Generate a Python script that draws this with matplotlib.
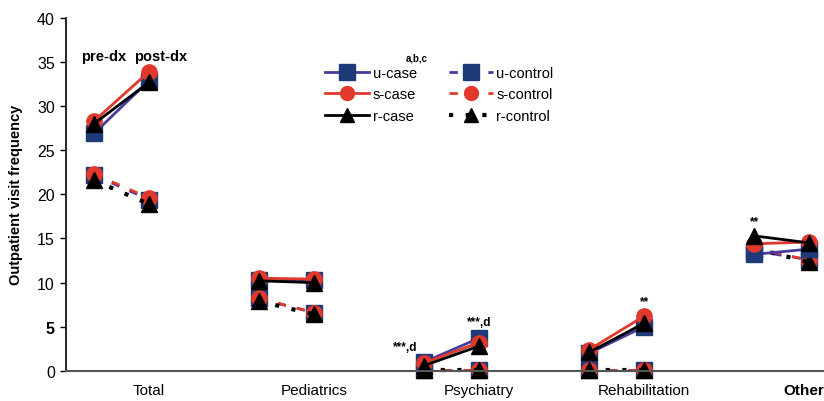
import matplotlib
matplotlib.use('Agg')
import matplotlib.pyplot as plt
from matplotlib.lines import Line2D
import numpy as np

plt.rcParams['font.family'] = ['Liberation Sans', 'DejaVu Sans']

# ---- Data (pre-dx, post-dx) per category
categories = ['Total', 'Pediatrics', 'Psychiatry', 'Rehabilitation', 'Other']
periods = ['pre-dx', 'post-dx']

u_case = [[26.9, 32.9], [10.3, 10.3], [1.0, 3.7], [2.0, 5.0], [13.2, 13.8]]
s_case = [[28.3, 33.9], [10.5, 10.4], [0.9, 3.2], [2.4, 6.2], [14.4, 14.6]]
r_case = [[28.0, 32.7], [10.2, 10.0], [0.6, 2.8], [2.1, 5.4], [15.3, 14.5]]
u_control = [[22.2, 19.4], [8.2, 6.6], [0.05, 0.05], [0.05, 0.05], [13.6, 12.6]]
s_control = [[22.3, 19.6], [8.2, 6.6], [0.05, 0.05], [0.05, 0.05], [14.0, 12.5]]
r_control = [[21.6, 18.9], [7.9, 6.4], [0.05, 0.05], [0.05, 0.05], [13.9, 12.3]]

# significance marks: (category index, period index, text, value)
sig_marks = [(2, 0, '***,d', 2.7), (2, 1, '***,d', 5.5),
             (3, 1, '**', 7.9), (4, 0, '**', 17.0)]

navy = '#1f3a78'
purple = '#4a3a9c'
red = '#e0392b'

styles = {
    'u-case': dict(color=purple, ls='-', lw=2, marker='s', mfc=navy,
                   mec=navy, ms=12),
    's-case': dict(color=red, ls='-', lw=2, marker='o', mfc=red, mec=red,
                   ms=11),
    'r-case': dict(color='black', ls='-', lw=2, marker='^', mfc='black',
                   mec='black', ms=11),
    'u-control': dict(color=purple, ls=(0, (3, 4)), lw=2, marker='s',
                      mfc=navy, mec=navy, ms=12),
    's-control': dict(color=red, ls=(0, (3, 4)), lw=2, marker='o', mfc=red,
                      mec=red, ms=11),
    'r-control': dict(color='black', ls=(0, (1, 3)), lw=3, marker='^',
                      mfc='black', mec='black', ms=11),
}

series = [('u-control', u_control), ('s-control', s_control),
          ('r-control', r_control), ('u-case', u_case), ('s-case', s_case),
          ('r-case', r_case)]

fig = plt.figure(figsize=(8.24, 4.02), dpi=100)
ax = fig.add_axes([0.080, 0.075, 0.92, 0.878])

for name, vals in series:
    vals = np.array(vals)
    st = styles[name]
    for i in range(len(categories)):
        x = [3 * i, 3 * i + 1]
        ax.plot(x, vals[i], color=st['color'], ls=st['ls'], lw=st['lw'],
                marker=st['marker'], mfc=st['mfc'], mec=st['mec'],
                ms=st['ms'], solid_capstyle='butt', dash_capstyle='butt',
                clip_on=False)

ax.set_xlim(-0.51, 13.27)
ax.set_ylim(0, 40)
ax.set_yticks(range(0, 41, 5))
for lbl in ax.get_yticklabels():
    lbl.set_fontsize(11.5)
    if lbl.get_text() == '5':
        lbl.set_fontweight('bold')
xticks = [3 * i + 1 for i in range(len(categories))]
xticks[-1] -= 0.1  # keep "Other" inside the figure
ax.set_xticks(xticks)
ax.set_xticklabels(categories, fontsize=11)
ax.get_xticklabels()[-1].set_fontweight('bold')
ax.tick_params(axis='x', length=0, pad=9)
ax.tick_params(axis='y', length=4, width=1, pad=4)
ax.spines['top'].set_visible(False)
ax.spines['right'].set_visible(False)
ax.spines['bottom'].set_color('#555555')
ax.spines['bottom'].set_linewidth(1.5)
ax.spines['left'].set_linewidth(1.2)
ax.set_ylabel('Outpatient visit frequency', fontsize=10.5, fontweight='bold',
              labelpad=10)

# period labels
ax.text(0.18, 35.7, periods[0], ha='center', va='center', fontsize=10.5,
        fontweight='bold')
ax.text(1.22, 35.7, periods[1], ha='center', va='center', fontsize=10.5,
        fontweight='bold')

for ci, pi, txt, yv in sig_marks:
    xoff = -0.35 if txt.startswith('***') and pi == 0 else 0
    ax.text(3 * ci + pi + xoff, yv, txt, ha='center', va='center',
            fontsize=8.5, fontweight='bold')

# ---- Legend
order = ['u-case', 's-case', 'r-case', 'u-control', 's-control', 'r-control']
handles = []
for name in order:
    st = styles[name]
    handles.append(Line2D([], [], color=st['color'], ls=st['ls'],
                          lw=st['lw'], marker=st['marker'], mfc=st['mfc'],
                          mec=st['mec'], ms=st['ms'] - 1))
ax.legend(handles, order, ncol=2, loc='upper left',
          bbox_to_anchor=(0.386, 0.851), bbox_transform=fig.transFigure,
          frameon=False, fontsize=10.5, handlelength=3.0, handletextpad=0.25,
          columnspacing=2.2, labelspacing=0.5, borderpad=0)
fig.text(0.493, 0.846, 'a,b,c', fontsize=7, fontweight='bold')

fig.savefig('out.png', dpi=100)
